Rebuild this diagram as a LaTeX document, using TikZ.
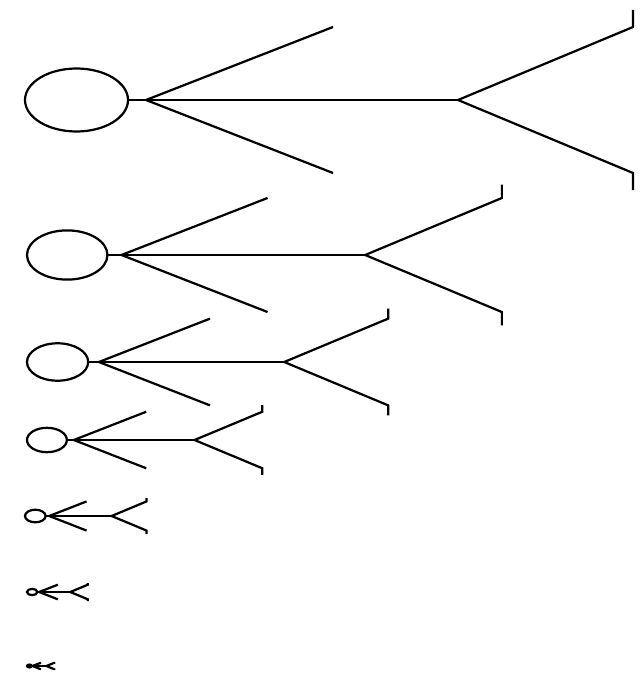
\documentclass[tikz,border=0pt]{standalone}
\usetikzlibrary{positioning}
\tikzset{
  figline/.style={line width=1.9pt, line join=miter},
  fighead/.style={figline, fill=white},
}

\begin{document}
\begin{tikzpicture}[x=0.03cm, y=-0.03cm]
  \useasboundingbox (0,0) rectangle (641,676);
  % stick men, each one smaller than the one above
  \foreach \i/\px/\py/\s in {1/25/100/1, 2/27/255/0.781, 3/27/362/0.594, 4/27/440/0.387,
                             5/25/516/0.2, 6/27/592/0.1, 7/27/666/0.045} {
    \begin{scope}[shift={(\px,\py)}, scale=\s]
      \coordinate (head\i) at (51.5,0);
      \coordinate (neck\i) at (103,0);
      \coordinate (chest\i) at (121,0);
      \coordinate (hip\i) at (433,0);
      \coordinate (lhand\i) at (308,-73);
      \coordinate (rhand\i) at (308,73);
      \coordinate (lknee\i) at (608,-73);
      \coordinate (rknee\i) at (608,73);
      \coordinate (lfoot\i) at (608,-90);
      \coordinate (rfoot\i) at (608,90);
      \draw[fighead] (head\i) ellipse [x radius=51.5, y radius=31.5];
      \draw[figline] (neck\i) -- (hip\i);
      \draw[figline] (lhand\i) -- (chest\i) -- (rhand\i);
      \draw[figline] (lfoot\i) -- (lknee\i) -- (hip\i) -- (rknee\i) -- (rfoot\i);
    \end{scope}
  }
\end{tikzpicture}
\end{document}
